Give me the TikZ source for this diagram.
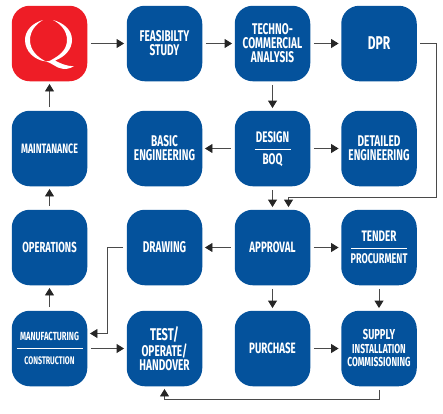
\documentclass[tikz,border=0pt]{standalone}
\usepackage{fontspec}
\setmainfont{Fira Sans}[FakeStretch=0.65]
\usetikzlibrary{arrows.meta}
\definecolor{qblue}{HTML}{04529C}
\definecolor{qred}{HTML}{EE1D26}
\definecolor{qline}{HTML}{4A4A4A}
\newcommand{\fs}[2]{\fontsize{#1}{#2}\selectfont}
\tikzset{
  card/.style={draw=none,fill=qblue,rounded corners=18pt,minimum width=75.5pt,minimum height=75.5pt,inner sep=0pt,text=white,align=center,font=\fontsize{15.5}{14}\selectfont\bfseries},
  conn/.style={draw=qline,line width=0.9pt,-{Triangle[length=7.5pt,width=9pt,color=black!85]},shorten <=3.5pt,shorten >=2.5pt},
  sep/.style={draw=white,line width=0.7pt},
  lbl/.style={text=white,inner sep=0pt,font=\fontsize{#1}{13}\selectfont\bfseries}
}
\begin{document}
\begin{tikzpicture}[x=1pt,y=-1pt]
\useasboundingbox (0,0) rectangle (443,413);
\node[card,fill=qred] (q) at (49.5,43.5) {};
\node[card] (feas) at (164.5,43.5) {\fs{15.5}{17}FEASIBILTY\\STUDY};
\node[card] (tech) at (272.5,43.5) {\fs{15.5}{14}TECHNO-\\COMMERCIAL\\ANALYSIS};
\node[card] (dpr) at (379,43.5) {\fs{18.5}{17}DPR};
\node[card] (maint) at (49.5,148.5) {\fs{13.6}{17}MAINTANANCE};
\node[card] (basic) at (164.5,148.5) {BASIC\\ENGINEERING};
\node[card] (design) at (272.5,148.5) {};
\node[card] (det) at (379,148.5) {DETAILED\\ENGINEERING};
\node[card] (oper) at (49.5,247.5) {\fs{14.6}{17}OPERATIONS};
\node[card] (draw) at (164.5,247.5) {DRAWING};
\node[card] (appr) at (272.5,247.5) {\fs{15}{17}APPROVAL};
\node[card] (tender) at (379,247.5) {};
\node[card] (manu) at (49.5,348.5) {};
\node[card] (test) at (164.5,348.5) {\fs{17}{14.5}TEST/\\OPERATE/\\HANDOVER};
\node[card] (purch) at (272.5,348.5) {\fs{15}{17}PURCHASE};
\node[card] (supply) at (379,348.5) {};
% divided and mixed cards
\node[lbl=15.3] (designa) at (272.5,137.5) {DESIGN};
\node[lbl=15.3] (designb) at (272.5,160) {BOQ};
\draw[sep] ([xshift=-18pt,yshift=-0.5pt]design.center) -- ([xshift=18pt,yshift=-0.5pt]design.center);
\node[lbl=15.2] (tendera) at (379,236.5) {TENDER};
\node[lbl=14] (tenderb) at (379,259) {PROCURMENT};
\draw[sep] ([xshift=-28pt,yshift=-1pt]tender.center) -- ([xshift=28pt,yshift=-1pt]tender.center);
\node[lbl=11.8] (manua) at (49.5,336) {MANUFACTURING};
\node[lbl=11] (manub) at (49.5,361) {CONSTRUCTION};
\draw[sep] ([xshift=-33pt]manu.center) -- ([xshift=33pt]manu.center);
\node[lbl=14.4] (supplya) at (379,334.5) {SUPPLY};
\node[lbl=13] (supplyb) at (379,348.5) {INSTALLATION};
\node[lbl=13] (supplyc) at (379,362) {COMMISSIONING};
% logo
\fill[white] (43,20) .. controls (32,23) and (25,31) .. (25,40) .. controls (25,51) and (34,60) .. (46,61.5)
  .. controls (37,57) and (30,50) .. (30,40) .. controls (30,31) and (36,24) .. (43,20) -- cycle;
\fill[white] (53,20) .. controls (64,23) and (72,30) .. (72,40) .. controls (72,49) and (65,57) .. (55,60.5)
  .. controls (60,63) and (66,66.5) .. (74,66) .. controls (70,69) and (64,70) .. (58,67.5)
  .. controls (54,65.5) and (50,62.5) .. (46,61.5) .. controls (49,61.5) and (51,60.5) .. (53,59)
  .. controls (62,54) and (67,48) .. (67,40) .. controls (67,31) and (61,24) .. (53,20) -- cycle;
% connectors
\draw[conn] (q) -- (feas);
\draw[conn] (feas) -- (tech);
\draw[conn] (tech) -- (dpr);
\draw[conn] (maint) -- (q);
\draw[conn] (oper) -- (maint);
\draw[conn] (manu) -- (oper);
\draw[conn] (tech) -- (design);
\draw[conn] (design) -- (basic);
\draw[conn] (design) -- (det);
\draw[conn] (design) -- (appr);
\draw[conn] (appr) -- (draw);
\draw[conn] (appr) -- (tender);
\draw[conn] (appr) -- (purch);
\draw[conn] (tender) -- (supply);
\draw[conn] (purch) -- (supply);
\draw[conn] (manu) -- (test);
\draw[conn] (dpr.east) -- ++(19,0) |- ([xshift=16pt,yshift=12pt]appr.north) -- ([xshift=16pt]appr.north);
\draw[conn] (draw.west) -- ++(-19,0) |- ([yshift=15pt]manu.east);
\draw[conn] (supply.south) -- ++(0,13) -| (test.south);
\end{tikzpicture}
\end{document}
